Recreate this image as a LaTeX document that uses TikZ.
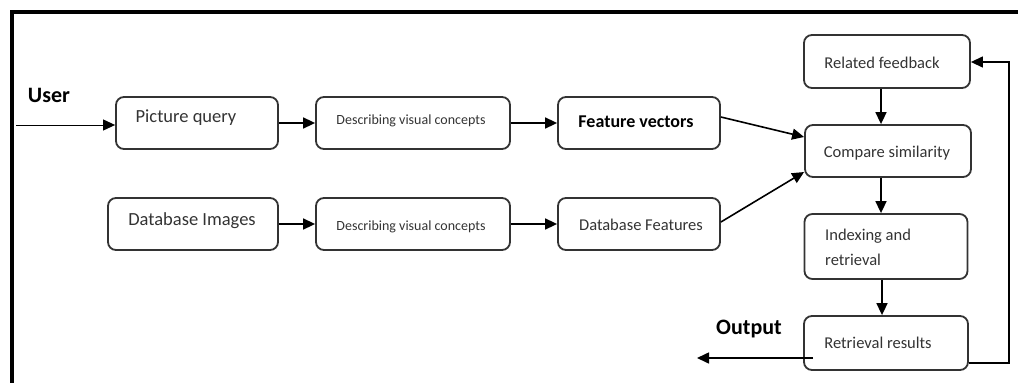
\documentclass[tikz,border=0pt]{standalone}
\usepackage{fontspec}
\setmainfont{Carlito}
\usetikzlibrary{arrows.meta}
\definecolor{boxc}{HTML}{333333}
\definecolor{txtc}{HTML}{333333}
\tikzset{
  box/.style={draw=boxc, line width=1.8pt, rounded corners=8pt, inner sep=0pt},
  conn/.style={draw=black, line width=1.6pt, -{Triangle[length=12pt,width=11pt]}},
  lbl/.style={text=txtc, inner sep=0pt, font=\fontsize{16.5}{19}\selectfont},
  big/.style={text=txtc, inner sep=0pt, font=\fontsize{18.5}{22}\selectfont},
  small/.style={text=txtc, inner sep=0pt, font=\fontsize{14}{17}\selectfont},
  bold/.style={text=black, inner sep=0pt, font=\fontsize{22}{26}\selectfont\bfseries},
}
\begin{document}
\begin{tikzpicture}[x=1pt,y=-1pt]
\useasboundingbox (0,0) rectangle (1018,383);
% frame
\draw[line width=4pt] (12,383) -- (12,12) -- (1018,12);
% boxes
\node[box, minimum width=162pt, minimum height=52pt] (pq) at (197,123) {};
\node[box, minimum width=194pt, minimum height=52pt] (d1) at (413,123) {};
\node[box, minimum width=162pt, minimum height=52pt] (fv) at (639,123) {};
\node[box, minimum width=170pt, minimum height=52pt] (di) at (193,224) {};
\node[box, minimum width=194pt, minimum height=52pt] (d2) at (413,224) {};
\node[box, minimum width=162pt, minimum height=52pt] (df) at (639,224) {};
\node[box, minimum width=166pt, minimum height=53pt] (rf) at (887,61.5) {};
\node[box, minimum width=166pt, minimum height=52pt] (cs) at (888,151) {};
\node[box, minimum width=163pt, minimum height=65pt] (ir) at (886,246.5) {};
\node[box, minimum width=164pt, minimum height=54pt] (rr) at (886,343) {};
% texts
\node[big] (tpq) at (186,118) {Picture query};
\node[small] (td1) at (411,121) {Describing visual concepts};
\node[bold, font=\fontsize{18}{22}\selectfont\bfseries] (tfv) at (636,122) {Feature vectors};
\node[big] (tdi) at (192,221) {Database Images};
\node[small] (td2) at (411,227) {Describing visual concepts};
\node[lbl] (tdf) at (641,225) {Database Features};
\node[lbl] (trf) at (882,63) {Related feedback};
\node[lbl] (tcs) at (887,153) {Compare similarity};
\node[lbl, anchor=west] (tir1) at (825,236) {Indexing and};
\node[lbl, anchor=west] (tir2) at (825,260) {retrieval};
\node[lbl] (trr) at (878,343) {Retrieval results};
\node[bold] (tuser) at (49,95) {User};
\node[bold] (tout) at (749,329) {Output};
% connectors
\coordinate (uin) at (16,125);
\draw[conn, line width=1pt] (uin) -- (pq.west |- uin);
\draw[conn] (pq.east) -- (d1.west);
\draw[conn] (d1.east) -- (fv.west);
\draw[conn] (di.east) -- (d2.west);
\draw[conn] (d2.east) -- (df.west);
\draw[conn] ([yshift=6pt]fv.east) -- ([yshift=14pt]cs.west);
\draw[conn] ([yshift=2pt]df.east) -- ([yshift=-21pt]cs.west);
\draw[conn] (rf.south -| 881,0) -- (cs.north -| 881,0);
\draw[conn] (cs.south -| 881,0) -- (ir.north -| 881,0);
\draw[conn] (ir.south -| 882,0) -- (rr.north -| 882,0);
\coordinate (os) at (813,358);
\coordinate (oe) at (697,358);
\draw[conn] (os) -- (oe);
\coordinate (fb1) at (1009,363);
\coordinate (fb2) at (1009,62);
\draw[conn, line width=1.3pt] ([yshift=-20pt]rr.east) -- (fb1) -- (fb2) -- (rf.east |- fb2);
\end{tikzpicture}
\end{document}
